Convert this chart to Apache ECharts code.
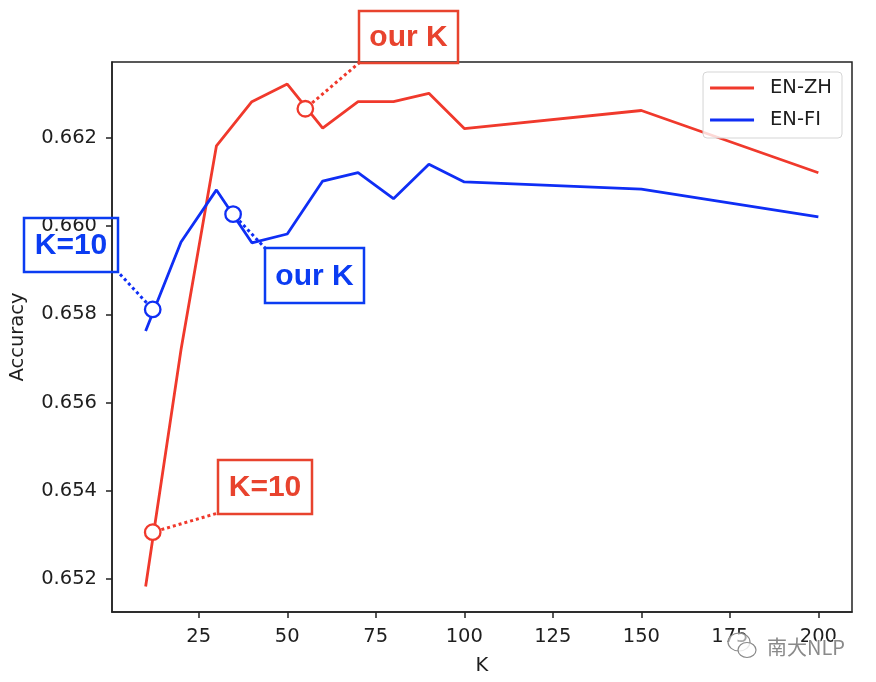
<!DOCTYPE html>
<html>
<head>
<meta charset="utf-8">
<script src="https://cdn.jsdelivr.net/npm/echarts@6/dist/echarts.min.js"></script>
<style>
html, body { margin: 0; padding: 0; background: #fff; }
#main { width: 876px; height: 682px; }
</style>
</head>
<body>
<div id="main"></div>
<script>
// values
const kValues = [10, 20, 30, 40, 50, 60, 70, 80, 90, 100, 150, 200];
const enZh = [0.65183, 0.65720, 0.66182, 0.66282, 0.66322, 0.66222, 0.66282, 0.66282, 0.66301, 0.66221, 0.66262, 0.66121];
const enFi = [0.65762, 0.65964, 0.66082, 0.65962, 0.65982, 0.66102, 0.66121, 0.66062, 0.66140, 0.66100, 0.66084, 0.66021];
const xTicks = [25, 50, 75, 100, 125, 150, 175, 200];
const yTicks = [0.652, 0.654, 0.656, 0.658, 0.660, 0.662];

// annotation circles [K, accuracy] and their labels
const zhMarks = [[12.0, 0.65306], [55.1, 0.66266]];
const fiMarks = [[12.0, 0.65811], [34.7, 0.66027]];
const zhLabels = ['K=10', 'our K'];
const fiLabels = ['K=10', 'our K'];

const RED = '#f0392c';
const BLUE = '#0f2ef5';
const TXT_RED = '#e8432e';
const TXT_BLUE = '#0b3cf2';
const FONT = "'DejaVu Sans', sans-serif";
const INK = '#1e1e1e';

const chart = echarts.init(document.getElementById('main'));

const pairs = (ys) => kValues.map((k, i) => [k, ys[i]]);

chart.setOption({
  animation: false,
  grid: {
    left: 112, right: 24, top: 62, bottom: 70,
    show: true, borderColor: '#222', borderWidth: 1.5, backgroundColor: 'transparent'
  },
  legend: {
    data: ['EN-ZH', 'EN-FI'],
    orient: 'vertical',
    right: 34, top: 72,
    icon: 'rect', itemWidth: 44, itemHeight: 3, itemGap: 12,
    padding: [6, 10, 8, 7],
    backgroundColor: 'rgba(255,255,255,0.8)',
    borderColor: '#d5d5d5', borderWidth: 1, borderRadius: 4,
    textStyle: { fontSize: 19.5, color: INK, fontFamily: FONT, padding: [0, 0, 0, 11], lineHeight: 20 }
  },
  xAxis: {
    type: 'value', min: 0.5, max: 209.5,
    name: 'K', nameLocation: 'middle', nameGap: 44,
    nameTextStyle: { fontSize: 19.5, color: INK, fontFamily: FONT },
    axisLine: { show: true, onZero: false, lineStyle: { color: '#222', width: 1.5 } },
    axisTick: { show: true, customValues: xTicks, length: 6, lineStyle: { color: '#222', width: 1.5 } },
    axisLabel: { customValues: xTicks, margin: 15, fontSize: 19.5, color: INK, fontFamily: FONT },
    splitLine: { show: false }
  },
  yAxis: {
    type: 'value', min: 0.65125, max: 0.66372,
    name: 'Accuracy', nameLocation: 'middle', nameGap: 84,
    nameTextStyle: { fontSize: 19.5, color: INK, fontFamily: FONT },
    axisLine: { show: true, onZero: false, lineStyle: { color: '#222', width: 1.5 } },
    axisTick: { show: true, customValues: yTicks, length: 6, lineStyle: { color: '#222', width: 1.5 } },
    axisLabel: {
      customValues: yTicks, margin: 15, fontSize: 19.5, color: INK, fontFamily: FONT,
      formatter: (v) => v.toFixed(3)
    },
    splitLine: { show: false }
  },
  series: [
    {
      name: 'EN-ZH', type: 'line', data: pairs(enZh), symbol: 'none',
      lineStyle: { color: RED, width: 2.8 }, itemStyle: { color: RED }, z: 2
    },
    {
      name: 'EN-FI', type: 'line', data: pairs(enFi), symbol: 'none',
      lineStyle: { color: BLUE, width: 2.8 }, itemStyle: { color: BLUE }, z: 2
    },
    {
      name: 'zh-marks', type: 'scatter', data: zhMarks, symbolSize: 15.5,
      itemStyle: { color: '#fff', borderColor: RED, borderWidth: 2.3, opacity: 1 }, z: 5
    },
    {
      name: 'fi-marks', type: 'scatter', data: fiMarks, symbolSize: 15.5,
      itemStyle: { color: '#fff', borderColor: BLUE, borderWidth: 2.3, opacity: 1 }, z: 5
    }
  ]
});

// annotation boxes (pixel layout) and the corner the dotted leader goes to
const boxes = [
  { text: zhLabels[0], mark: zhMarks[0], color: TXT_RED, line: RED, x: 218, y: 460, w: 94, h: 54, to: [218, 513] },
  { text: zhLabels[1], mark: zhMarks[1], color: TXT_RED, line: RED, x: 359, y: 11, w: 99, h: 52, to: [359, 63] },
  { text: fiLabels[0], mark: fiMarks[0], color: TXT_BLUE, line: BLUE, x: 24, y: 218, w: 94, h: 54, to: [118, 272] },
  { text: fiLabels[1], mark: fiMarks[1], color: TXT_BLUE, line: BLUE, x: 265, y: 248, w: 99, h: 55, to: [265, 248] }
];

const elements = [];
boxes.forEach((b) => {
  const c = chart.convertToPixel({ gridIndex: 0 }, b.mark);
  const dx = b.to[0] - c[0], dy = b.to[1] - c[1];
  const d = Math.sqrt(dx * dx + dy * dy);
  const r = 9;
  elements.push({
    type: 'line', z: 10,
    shape: { x1: c[0] + dx / d * r, y1: c[1] + dy / d * r, x2: b.to[0], y2: b.to[1] },
    style: { stroke: b.line, lineWidth: 3, lineDash: [3, 3] }
  });
  elements.push({
    type: 'rect', z: 11,
    shape: { x: b.x, y: b.y, width: b.w, height: b.h },
    style: { fill: null, stroke: b.color, lineWidth: 2.5 }
  });
  elements.push({
    type: 'text', z: 12,
    x: b.x + b.w / 2, y: b.y + b.h / 2 + 1,
    style: {
      text: b.text, fill: b.color, align: 'center', verticalAlign: 'middle',
      font: "bold 30px 'Liberation Sans', Arial, sans-serif"
    }
  });
});

// watermark
elements.push({
  type: 'ellipse', z: 20, shape: { cx: 739, cy: 642, rx: 11, ry: 9 },
  style: { fill: 'rgba(255,255,255,0.6)', stroke: '#8a8a8a', lineWidth: 1.2 }
});
elements.push({
  type: 'ellipse', z: 21, shape: { cx: 747, cy: 650, rx: 9, ry: 7.5 },
  style: { fill: 'rgba(255,255,255,0.8)', stroke: '#8a8a8a', lineWidth: 1.2 }
});
elements.push({
  type: 'text', z: 22, x: 767, y: 647,
  style: {
    text: '南大NLP', fill: '#8a8a8a', stroke: '#fff', lineWidth: 2,
    verticalAlign: 'middle', font: "20px 'Noto Sans CJK SC', sans-serif"
  }
});

chart.setOption({ graphic: { elements: elements } });
</script>
</body>
</html>
